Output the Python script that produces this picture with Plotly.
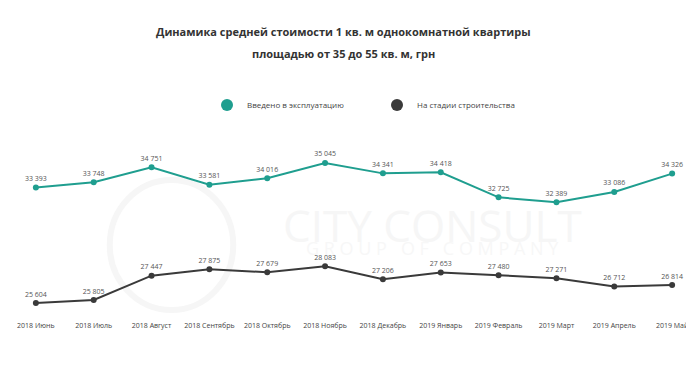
import plotly.graph_objects as go

months = ["2018 Июнь", "2018 Июль", "2018 Август", "2018 Сентябрь", "2018 Октябрь",
          "2018 Ноябрь", "2018 Декабрь", "2019 Январь", "2019 Февраль", "2019 Март",
          "2019 Апрель", "2019 Май"]
commissioned = [33393, 33748, 34751, 33581, 34016, 35045, 34341, 34418, 32725, 32389, 33086, 34326]
construction = [25604, 25805, 27447, 27875, 27679, 28083, 27206, 27653, 27480, 27271, 26712, 26814]

series_names = ["Введено в эксплуатацию", "На стадии строительства"]
colors = ["#1f9e8f", "#3a3a3a"]


def fmt(v):
    return f"{v:,}".replace(",", " ")


fig = go.Figure()
for name, vals, col in zip(series_names, [commissioned, construction], colors):
    fig.add_trace(go.Scatter(
        x=months, y=vals, name=name, mode="lines+markers+text",
        line=dict(color=col, width=2), marker=dict(color=col, size=6),
        text=[fmt(v) for v in vals], textposition="top center",
        textfont=dict(size=7, color="#555555", family="Open Sans"),
        cliponaxis=False, showlegend=False,
    ))
    fig.add_trace(go.Scatter(
        x=[None], y=[None], name=name, mode="markers",
        marker=dict(color=col, size=9), showlegend=True,
    ))

PLOT_TOP, PLOT_H = 140, 180


def py(p):
    return (PLOT_TOP + PLOT_H - p) / PLOT_H


# faint watermark
fig.add_annotation(x=0.63, y=py(225), xref="paper", yref="paper", text="CITY CONSULT",
                   showarrow=False, font=dict(size=44, color="#f6f6f6", family="Open Sans"))
fig.add_annotation(x=0.63, y=py(262), xref="paper", yref="paper", text="G R O U P   O F   C O M P A N Y",
                   showarrow=False, font=dict(size=18, color="#f7f7f7", family="Open Sans"))
fig.add_shape(type="circle", xref="paper", yref="paper", x0=0.16, x1=0.34, y0=py(310), y1=py(180),
              line=dict(color="#f6f6f6", width=6), layer="below")

fig.add_annotation(x=0.5, y=py(32), xref="paper", yref="paper", yanchor="middle",
                   text="<b>Динамика средней стоимости 1 кв. м однокомнатной квартиры</b>",
                   showarrow=False, font=dict(size=11, color="#333333"))
fig.add_annotation(x=0.5, y=py(54), xref="paper", yref="paper", yanchor="middle",
                   text="<b>площадью от 35 до 55 кв. м, грн</b>",
                   showarrow=False, font=dict(size=11, color="#333333"))

fig.update_layout(
    width=686, height=386,
    margin=dict(l=0, r=0, t=PLOT_TOP, b=386 - PLOT_TOP - PLOT_H, autoexpand=False),
    paper_bgcolor="white", plot_bgcolor="white",
    font=dict(family="Open Sans", color="#333333"),
    showlegend=True,
    legend=dict(orientation="h", x=207 / 686, xanchor="left", y=py(105),
                yanchor="middle", font=dict(size=8, color="#444444"),
                itemsizing="constant", entrywidth=125, itemwidth=30),
    xaxis=dict(range=[-0.62, 11.24], showgrid=False, zeroline=False, showline=False,
               ticks="", tickfont=dict(size=7, color="#444444"), tickangle=0,
               automargin=False),
    yaxis=dict(range=[24458, 36590], visible=False, automargin=False),
)

fig.write_html("out.html", config={"displayModeBar": False},
               post_script="document.body.style.margin='0';document.body.style.overflow='hidden';")
